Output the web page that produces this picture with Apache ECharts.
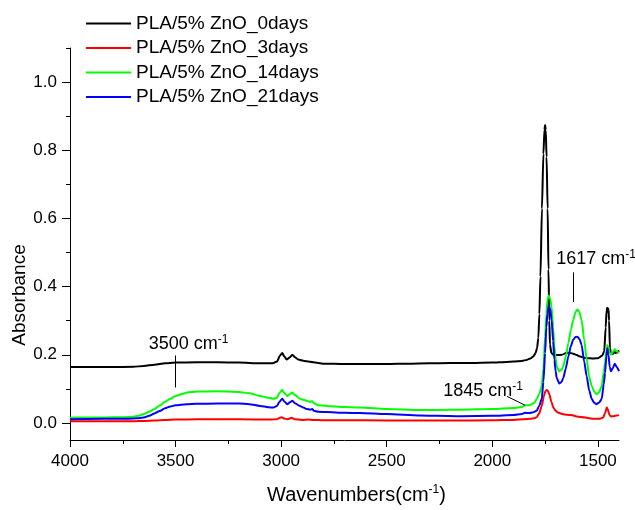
<!DOCTYPE html>
<html>
<head>
<meta charset="utf-8">
<script src="https://cdn.jsdelivr.net/npm/echarts@6/dist/echarts.min.js"></script>
<style>
  html, body { margin: 0; padding: 0; background: #fff; }
  #chart { width: 635px; height: 510px; }
</style>
</head>
<body>
<div id="chart"></div>
<script>
// FTIR spectra of PLA/5% ZnO films after burial: [wavenumber (cm-1), absorbance]
const seriesNames = ['PLA/5% ZnO_0days', 'PLA/5% ZnO_3days', 'PLA/5% ZnO_14days', 'PLA/5% ZnO_21days'];

const day0 = [
  [4000,0.164],[3900,0.164],[3800,0.164],[3700,0.165],[3650,0.167],[3600,0.171],[3550,0.175],[3500,0.177],
  [3400,0.178],[3300,0.178],[3200,0.177],[3100,0.175],[3040,0.175],[3020,0.180],[3005,0.198],[2995,0.205],
  [2985,0.195],[2974,0.186],[2960,0.192],[2947,0.200],[2935,0.193],[2919,0.186],[2900,0.183],[2879,0.181],
  [2848,0.178],[2800,0.174],[2700,0.173],[2600,0.173],[2500,0.173],[2400,0.174],[2300,0.175],[2200,0.176],
  [2100,0.176],[2000,0.177],[1964,0.178],[1900,0.180],[1860,0.182],[1837,0.185],[1820,0.189],[1806,0.195],
  [1795,0.205],[1788,0.220],[1782,0.250],[1777,0.320],[1772,0.430],[1765,0.629],[1758,0.790],[1753,0.860],
  [1750,0.874],[1747,0.860],[1743,0.780],[1738,0.629],[1734,0.450],[1730,0.300],[1727,0.230],[1720,0.205],
  [1711,0.200],[1690,0.199],[1670,0.200],[1648,0.206],[1630,0.205],[1617,0.203],[1600,0.199],[1585,0.195],
  [1553,0.190],[1520,0.189],[1500,0.190],[1480,0.197],[1470,0.210],[1463,0.280],[1459,0.330],[1456,0.338],
  [1453,0.325],[1450,0.336],[1447,0.300],[1443,0.220],[1438,0.203],[1427,0.203],[1421,0.212],[1416,0.205],
  [1408,0.207],[1400,0.213]
];

const day3 = [
  [4000,0.005],[3800,0.005],[3700,0.005],[3650,0.006],[3600,0.007],[3550,0.009],[3500,0.010],[3400,0.011],
  [3200,0.011],[3050,0.010],[3020,0.011],[2998,0.017],[2985,0.013],[2970,0.011],[2950,0.015],[2935,0.011],
  [2900,0.009],[2870,0.010],[2850,0.009],[2800,0.008],[2600,0.008],[2400,0.007],[2200,0.007],[2000,0.008],
  [1900,0.009],[1850,0.011],[1820,0.012],[1800,0.014],[1790,0.017],[1778,0.028],[1766,0.050],[1755,0.080],
  [1748,0.094],[1742,0.097],[1736,0.093],[1730,0.084],[1720,0.062],[1711,0.045],[1700,0.036],[1690,0.031],
  [1670,0.026],[1645,0.024],[1625,0.023],[1600,0.019],[1560,0.016],[1520,0.012],[1490,0.012],[1475,0.016],
  [1465,0.030],[1458,0.045],[1453,0.040],[1446,0.025],[1438,0.019],[1425,0.020],[1410,0.022],[1400,0.023]
];

const day14 = [
  [4000,0.015],[3850,0.016],[3750,0.017],[3700,0.018],[3675,0.021],[3650,0.026],[3625,0.033],[3600,0.041],
  [3575,0.051],[3550,0.062],[3525,0.071],[3500,0.079],[3470,0.085],[3440,0.090],[3400,0.092],[3300,0.093],
  [3200,0.091],[3150,0.087],[3100,0.079],[3060,0.074],[3037,0.071],[3020,0.074],[3008,0.088],[2995,0.097],
  [2985,0.088],[2971,0.079],[2958,0.085],[2947,0.089],[2935,0.082],[2911,0.071],[2895,0.068],[2879,0.065],
  [2862,0.062],[2853,0.064],[2845,0.058],[2824,0.052],[2784,0.050],[2700,0.047],[2627,0.045],[2500,0.041],
  [2342,0.038],[2263,0.038],[2150,0.039],[2000,0.041],[1900,0.044],[1860,0.047],[1845,0.052],[1825,0.052],
  [1810,0.056],[1800,0.060],[1790,0.070],[1778,0.085],[1766,0.108],[1758,0.160],[1750,0.253],[1744,0.320],
  [1739,0.360],[1733,0.374],[1726,0.365],[1719,0.340],[1712,0.280],[1706,0.224],[1700,0.190],[1695,0.166],
  [1683,0.152],[1672,0.156],[1664,0.166],[1652,0.195],[1640,0.234],[1628,0.272],[1617,0.302],[1606,0.325],
  [1597,0.333],[1587,0.325],[1577,0.302],[1565,0.245],[1553,0.186],[1541,0.135],[1529,0.108],[1517,0.092],
  [1506,0.084],[1494,0.090],[1482,0.108],[1472,0.150],[1466,0.176],[1460,0.210],[1455,0.229],[1450,0.220],
  [1444,0.205],[1438,0.200],[1430,0.208],[1420,0.216],[1412,0.210],[1400,0.205]
];

const day21 = [
  [4000,0.011],[3850,0.012],[3750,0.012],[3700,0.013],[3675,0.014],[3650,0.016],[3625,0.021],[3600,0.028],
  [3575,0.035],[3550,0.043],[3525,0.048],[3500,0.052],[3450,0.055],[3400,0.056],[3300,0.057],[3200,0.057],
  [3150,0.055],[3100,0.050],[3060,0.046],[3037,0.045],[3020,0.050],[3008,0.062],[2995,0.071],[2985,0.063],
  [2971,0.055],[2958,0.061],[2947,0.065],[2935,0.058],[2911,0.050],[2895,0.045],[2879,0.041],[2862,0.039],
  [2853,0.041],[2845,0.036],[2824,0.033],[2784,0.032],[2700,0.030],[2627,0.029],[2500,0.026],[2342,0.022],
  [2263,0.021],[2150,0.020],[2000,0.021],[1900,0.023],[1860,0.026],[1845,0.030],[1825,0.029],[1810,0.031],
  [1800,0.033],[1790,0.036],[1778,0.050],[1766,0.070],[1758,0.120],[1750,0.205],[1744,0.280],[1739,0.321],
  [1733,0.345],[1726,0.335],[1719,0.302],[1712,0.240],[1706,0.186],[1700,0.152],[1695,0.132],[1683,0.116],
  [1672,0.120],[1664,0.132],[1652,0.160],[1640,0.195],[1628,0.225],[1617,0.244],[1606,0.252],[1597,0.253],
  [1587,0.246],[1577,0.229],[1565,0.180],[1553,0.137],[1541,0.095],[1529,0.070],[1517,0.059],[1506,0.055],
  [1494,0.060],[1482,0.070],[1472,0.115],[1466,0.147],[1460,0.195],[1455,0.219],[1450,0.200],[1444,0.165],
  [1438,0.152],[1430,0.160],[1420,0.174],[1412,0.165],[1400,0.152]
];

// axis ticks and labels
const xMajorTicks = [1500, 2000, 2500, 3000, 3500, 4000];
const xMinorTicks = [1750, 2250, 2750, 3250, 3750];
const yMajorTicks = [0, 0.2, 0.4, 0.6, 0.8, 1.0];
const yMinorTicks = [0.1, 0.3, 0.5, 0.7, 0.9, 1.1];

// band annotations: wavenumber label, leader line from [x1,y1] to [x2,y2]
const bandLabels = ['3500', '1617', '1845'];
const bandLeaders = [
  [[3500, 0.198], [3500, 0.104]],
  [[1617, 0.442], [1617, 0.355]],
  [[1930, 0.078], [1845, 0.052]]
];
const bandLabelOffsets = [[13, -11], [23, -13], [-24, -5]];

const colors = ['#000000', '#ff0000', '#00ff00', '#0000ff'];
const FONT = "'Liberation Sans', Arial, sans-serif";

const chart = echarts.init(document.getElementById('chart'), null, { renderer: 'canvas' });

const supRich = {
  n: { fontSize: 18, fontFamily: FONT, color: '#000', lineHeight: 22 },
  s: { fontSize: 12, fontFamily: FONT, color: '#000', verticalAlign: 'top', lineHeight: 12 }
};

const axisLineStyle = { color: '#000', width: 1 };

const seriesData = [day0, day3, day14, day21];
const series = seriesData.map((d, i) => ({
  name: seriesNames[i],
  type: 'line',
  data: d,
  xAxisIndex: 0,
  yAxisIndex: 0,
  symbol: 'none',
  smooth: 0.25,
  smoothMonotone: 'x',
  lineStyle: { color: colors[i], width: 2 },
  itemStyle: { color: colors[i] },
  animation: false,
  z: 2 + i
}));

// leader lines and band labels ride on the first series
series[0].markLine = {
  silent: true,
  symbol: 'none',
  animation: false,
  label: { show: false },
  lineStyle: { color: '#000', width: 1, type: 'solid' },
  data: bandLeaders.map(seg => [{ coord: seg[0] }, { coord: seg[1] }])
};
series[0].markPoint = {
  silent: true,
  animation: false,
  symbol: 'circle',
  symbolSize: 0,
  itemStyle: { color: 'rgba(0,0,0,0)' },
  data: bandLabels.map((t, i) => ({
    coord: bandLeaders[i][0],
    label: {
      show: true,
      position: 'inside',
      offset: bandLabelOffsets[i],
      formatter: '{n|' + t + ' cm}{s|-1}',
      rich: supRich
    }
  }))
};

const option = {
  backgroundColor: '#fff',
  animation: false,
  grid: { left: 70, right: 16, top: 48, bottom: 66, containLabel: false },
  legend: {
    orient: 'vertical',
    left: 81,
    top: 9,
    icon: 'rect',
    itemWidth: 45,
    itemHeight: 2,
    itemGap: 5.5,
    data: seriesNames,
    textStyle: { fontSize: 19, fontFamily: FONT, color: '#000', lineHeight: 19 }
  },
  xAxis: [
    {
      type: 'value',
      inverse: true,
      min: 1400,
      max: 4000,
      position: 'bottom',
      axisLine: { show: true, onZero: false, lineStyle: axisLineStyle },
      axisTick: { show: true, inside: false, length: 7, customValues: xMajorTicks, lineStyle: axisLineStyle },
      axisLabel: {
        show: true, customValues: xMajorTicks, margin: 13,
        fontSize: 17, fontFamily: FONT, color: '#000',
        formatter: v => String(v)
      },
      splitLine: { show: false },
      name: '{n|Wavenumbers(cm}{s|-1}{n|)}',
      nameLocation: 'middle',
      nameGap: 44,
      nameMoveOverlap: false,
      nameTextStyle: {
        padding: [0, 0, 0, 24],
        rich: {
          n: { fontSize: 20, fontFamily: FONT, color: '#000', lineHeight: 22 },
          s: { fontSize: 12, fontFamily: FONT, color: '#000', verticalAlign: 'top', lineHeight: 12 }
        }
      }
    },
    {
      type: 'value',
      inverse: true,
      min: 1400,
      max: 4000,
      position: 'bottom',
      axisLine: { show: false, onZero: false },
      axisTick: { show: true, inside: false, length: 4, customValues: xMinorTicks, lineStyle: axisLineStyle },
      axisLabel: { show: false },
      splitLine: { show: false }
    }
  ],
  yAxis: [
    {
      type: 'value',
      min: -0.05,
      max: 1.1,
      position: 'left',
      axisLine: { show: true, onZero: false, lineStyle: axisLineStyle },
      axisTick: { show: true, inside: false, length: 8, customValues: yMajorTicks, lineStyle: axisLineStyle },
      axisLabel: {
        show: true, customValues: yMajorTicks, margin: 13,
        fontSize: 17, fontFamily: FONT, color: '#000',
        formatter: v => v.toFixed(1)
      },
      splitLine: { show: false }
    },
    {
      type: 'value',
      min: -0.05,
      max: 1.1,
      position: 'left',
      axisLine: { show: false, onZero: false },
      axisTick: { show: true, inside: false, length: 4, customValues: yMinorTicks, lineStyle: axisLineStyle },
      axisLabel: { show: false },
      splitLine: { show: false }
    }
  ],
  graphic: [
    {
      type: 'text',
      x: 20,
      y: 295,
      rotation: Math.PI / 2,
      style: {
        text: 'Absorbance',
        fontSize: 19,
        fontFamily: FONT,
        fill: '#000',
        align: 'center',
        verticalAlign: 'middle'
      }
    }
  ],
  series: series
};

chart.setOption(option);
</script>
</body>
</html>
